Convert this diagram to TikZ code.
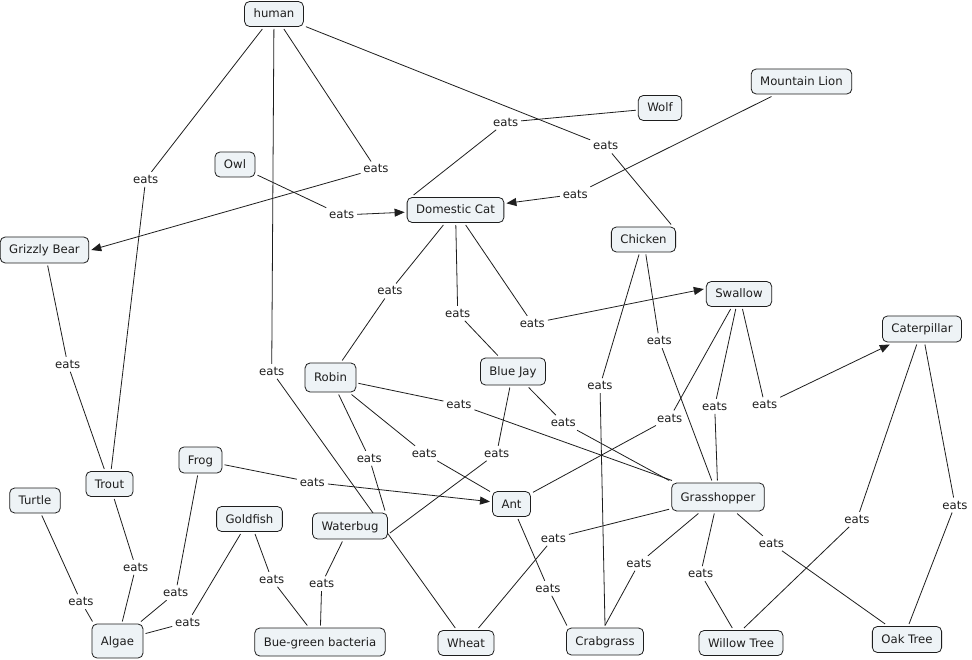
\documentclass[tikz,border=0pt]{standalone}
\usepackage{fontspec}
\setmainfont{DejaVu Sans}
\usetikzlibrary{arrows.meta,calc}
\pgfdeclarelayer{bg}
\pgfsetlayers{bg,main}
\definecolor{boxfill}{RGB}{238,243,246}
\definecolor{ink}{RGB}{30,30,30}
\begin{document}
\begin{tikzpicture}[x=1pt,y=-1pt,
  font=\fontsize{11.7}{14}\selectfont,
  concept/.style={draw=ink, fill=boxfill, rounded corners=5pt, line width=0.8pt,
    inner xsep=9pt, inner ysep=0pt, minimum height=25pt,
    text height=9.5pt, text depth=1.5pt, outer sep=2.5pt, text=ink},
  lbl/.style={inner xsep=3pt, inner ysep=3pt, text height=8.5pt, text depth=0.5pt,
    outer sep=0pt, text=ink},
  link/.style={draw=ink, line width=0.8pt},
  arr/.style={link, -{Triangle[length=10pt,width=8pt]}}]
\useasboundingbox (0,0) rectangle (972,660);
\begin{pgfonlayer}{bg}
\fill[white] (0,0) rectangle (972,660);
\end{pgfonlayer}
% concepts
\node[concept] (human) at (274,14) {human};
\node[concept] (Wolf) at (660,108) {Wolf};
\node[concept] (ML) at (801.5,81.5) {Mountain Lion};
\node[concept] (Owl) at (235,164.5) {Owl};
\node[concept] (Cat) at (455.5,210) {Domestic Cat};
\node[concept] (Chicken) at (643.5,239.5) {Chicken};
\node[concept, minimum height=26pt] (Grizzly) at (44.5,250) {Grizzly Bear};
\node[concept] (Swallow) at (739,294) {Swallow};
\node[concept, minimum height=26pt] (Caterpillar) at (922,329) {Caterpillar};
\node[concept, minimum height=29pt] (Robin) at (330.5,377.5) {Robin};
\node[concept, minimum height=27pt] (BlueJay) at (513,371.5) {Blue Jay};
\node[concept, minimum height=26pt] (Frog) at (200.5,460) {Frog};
\node[concept] (Trout) at (109.5,484) {Trout};
\node[concept] (Turtle) at (35,500.5) {Turtle};
\node[concept] (Goldfish) at (249.5,519) {Goldfish};
\node[concept, minimum height=26pt] (Waterbug) at (350,526) {Waterbug};
\node[concept] (Ant) at (511.5,504) {Ant};
\node[concept, minimum height=28pt] (Grasshopper) at (718,497) {Grasshopper};
\node[concept, minimum height=34pt] (Algae) at (117.5,641) {Algae};
\node[concept, minimum height=28pt] (Bacteria) at (320,642) {Bue-green bacteria};
\node[concept] (Wheat) at (466,643) {Wheat};
\node[concept, minimum height=27pt] (Crabgrass) at (605,641.5) {Crabgrass};
\node[concept] (Willow) at (741,643) {Willow Tree};
\node[concept, minimum height=26pt] (Oak) at (907,639.5) {Oak Tree};
% linking phrases
\node[lbl] (ea) at (145.7,179.3) {eats};
\node[lbl] (eb) at (376,169) {eats};
\node[lbl] (ec) at (271.7,371.3) {eats};
\node[lbl] (ed) at (605.7,146) {eats};
\node[lbl] (ee) at (505.7,122.3) {eats};
\node[lbl] (ef) at (575.3,194.3) {eats};
\node[lbl] (eg) at (341.7,215) {eats};
\node[lbl] (eh) at (390,291) {eats};
\node[lbl] (ei) at (457.7,313.3) {eats};
\node[lbl] (ej) at (532.3,323.3) {eats};
\node[lbl] (ek) at (67.7,364.3) {eats};
\node[lbl] (el) at (600,385.7) {eats};
\node[lbl] (em) at (659.3,340.7) {eats};
\node[lbl] (en) at (714.7,406.3) {eats};
\node[lbl] (eo) at (764.7,404.7) {eats};
\node[lbl] (ep) at (669.7,418) {eats};
\node[lbl] (eq) at (857,519.3) {eats};
\node[lbl] (er) at (955,505) {eats};
\node[lbl] (es) at (459,404.3) {eats};
\node[lbl] (et) at (369.3,458.3) {eats};
\node[lbl] (eu) at (424.3,453.3) {eats};
\node[lbl] (ev) at (563.3,422.7) {eats};
\node[lbl] (ew) at (496.7,453.3) {eats};
\node[lbl] (ex) at (312.3,482.3) {eats};
\node[lbl] (ey) at (175.7,592.7) {eats};
\node[lbl] (ez) at (135.7,567.3) {eats};
\node[lbl] (eA) at (81,601.7) {eats};
\node[lbl] (eB) at (187.7,622.3) {eats};
\node[lbl] (eC) at (271.7,579.3) {eats};
\node[lbl] (eD) at (321.7,583.7) {eats};
\node[lbl] (eE) at (548,588.3) {eats};
\node[lbl] (eF) at (553.4,538.3) {eats};
\node[lbl] (eG) at (639,563.3) {eats};
\node[lbl] (eH) at (700.6,573.7) {eats};
\node[lbl] (eI) at (771.4,543.3) {eats};
% connectors
\begin{pgfonlayer}{bg}
\draw[link] (human) -- (ea); \draw[link] (ea) -- (Trout);
\draw[link] (human) -- (eb); \draw[arr] (eb) -- (Grizzly.east);
\draw[link] (human) -- (ec); \draw[link] (ec) -- (Wheat);
\draw[link] (human) -- (ed); \draw[link] (ed) -- ($(Chicken.north east)+(-7,0)$);
\draw[link] (Wolf) -- (ee); \draw[link] (ee) -- ($(Cat.north west)+(9,0)$);
\draw[link] (ML) -- (ef); \draw[arr] (ef) -- (Cat);
\draw[link] (Owl) -- (eg); \draw[arr] (eg) -- (Cat);
\draw[link] (Cat) -- (eh); \draw[link] (eh) -- (Robin);
\draw[link] (Cat) -- (ei); \draw[link] (ei) -- (BlueJay);
\draw[link] (Cat) -- (ej); \draw[arr] (ej) -- ($(Swallow.west)+(0,-5)$);
\draw[link] (Grizzly) -- (ek); \draw[link] (ek) -- (Trout);
\draw[link] (Chicken) -- (el); \draw[link] (el) -- (Crabgrass.north);
\draw[link] (Chicken) -- (em); \draw[link] (em) -- (Grasshopper);
\draw[link] (Swallow) -- (en); \draw[link] (en) -- (Grasshopper);
\draw[link] (Swallow) -- (eo); \draw[arr] (eo) -- (Caterpillar);
\draw[link] (Swallow) -- (ep); \draw[link] (ep) -- (Ant);
\draw[link] (Caterpillar) -- (eq); \draw[link] (eq) -- ($(Willow.north)+(3,0)$);
\draw[link] (Caterpillar) -- (er); \draw[link] (er) -- ($(Oak.north)+(2,0)$);
\draw[link] (Robin) -- (es); \draw[link] (es) -- (Grasshopper);
\draw[link] (Robin) -- (et); \draw[link] (et) -- ($(Waterbug.north east)+(-5,0)$);
\draw[link] (Robin) -- (eu); \draw[link] (eu) -- (Ant);
\draw[link] (BlueJay) -- (ev); \draw[link] (ev) -- (Grasshopper.north west);
\draw[link] (BlueJay) -- (ew); \draw[link] (ew) -- ($(Waterbug.east)+(0,7)$);
\draw[link] (Frog) -- (ex); \draw[arr] (ex) -- (Ant);
\draw[link] (Frog) -- (ey); \draw[link] (ey) -- (Algae);
\draw[link] (Trout) -- (ez); \draw[link] (ez) -- (Algae);
\draw[link] (Turtle) -- (eA); \draw[link] (eA) -- ($(Algae.north west)+(3,0)$);
\draw[link] (Goldfish) -- (eB); \draw[link] (eB) -- (Algae);
\draw[link] (Goldfish) -- (eC); \draw[link] (eC) -- (Bacteria);
\draw[link] (Waterbug) -- (eD); \draw[link] (eD) -- (Bacteria);
\draw[link] (Ant) -- (eE); \draw[link] (eE) -- ($(Crabgrass.north west)+(3,0)$);
\draw[link] (Grasshopper) -- (eF); \draw[link] (eF) -- (Wheat);
\draw[link] (Grasshopper) -- (eG); \draw[link] (eG) -- (Crabgrass.north);
\draw[link] (Grasshopper) -- (eH); \draw[link] (eH) -- (Willow);
\draw[link] (Grasshopper) -- (eI); \draw[link] (eI) -- (Oak);
\end{pgfonlayer}
\end{tikzpicture}
\end{document}
